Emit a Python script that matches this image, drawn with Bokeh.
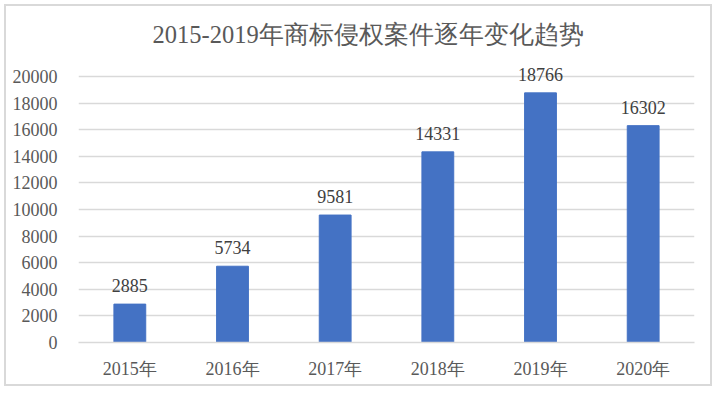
from bokeh.plotting import figure
from bokeh.models import ColumnDataSource, LabelSet, Range1d, FixedTicker, FactorRange
from bokeh.embed import file_html
from bokeh.resources import INLINE

categories = ["2015年", "2016年", "2017年", "2018年", "2019年", "2020年"]
cases = [2885, 5734, 9581, 14331, 18766, 16302]
y_ticks = [0, 2000, 4000, 6000, 8000, 10000, 12000, 14000, 16000, 18000, 20000]
title_text = "2015-2019年商标侵权案件逐年变化趋势"

FONT = "Liberation Serif"

source = ColumnDataSource(dict(cat=categories, val=cases, lab=[str(v) for v in cases]))

p = figure(
    width=708, height=382,
    x_range=FactorRange(factors=categories, range_padding=0),
    y_range=Range1d(0, 21500),
    output_backend="svg", toolbar_location=None,
    min_border_left=72, min_border_right=20, min_border_top=50, min_border_bottom=46,
    styles={"border": "2px solid #D9D9D9", "margin-left": "4px", "margin-top": "4px"},
)

p.title.text = title_text
p.title.align = "left"
p.title.offset = 74
p.title.text_font = FONT
p.title.text_font_size = "24.5px"
p.title.text_font_style = "normal"
p.title.text_color = "#595959"
p.title.standoff = 18

p.vbar(x="cat", top="val", width=0.31, source=source, color="#4472C4")

labels = LabelSet(x="cat", y="val", text="lab", source=source, text_align="center",
                  text_baseline="alphabetic", y_offset=12, text_font=FONT,
                  text_font_size="18px", text_color="#404040")
p.add_layout(labels)

p.outline_line_color = None
p.xgrid.grid_line_color = None
p.ygrid.grid_line_color = "#D9D9D9"
p.ygrid.grid_line_width = 1.3
p.yaxis.ticker = FixedTicker(ticks=y_ticks)

p.yaxis.axis_line_color = None
p.yaxis.major_tick_line_color = None
p.yaxis.minor_tick_line_color = None
p.yaxis.major_label_standoff = 15
p.yaxis.major_label_text_font = FONT
p.yaxis.major_label_text_font_size = "18px"
p.yaxis.major_label_text_color = "#595959"

p.xaxis.axis_line_color = "#D9D9D9"
p.xaxis.axis_line_width = 1.3
p.xaxis.major_tick_line_color = None
p.xaxis.minor_tick_line_color = None
p.xaxis.major_label_standoff = 10
p.xaxis.major_label_text_font = FONT
p.xaxis.major_label_text_font_size = "18px"
p.xaxis.major_label_text_color = "#595959"

open("out.html", "w").write(file_html(p, INLINE))
